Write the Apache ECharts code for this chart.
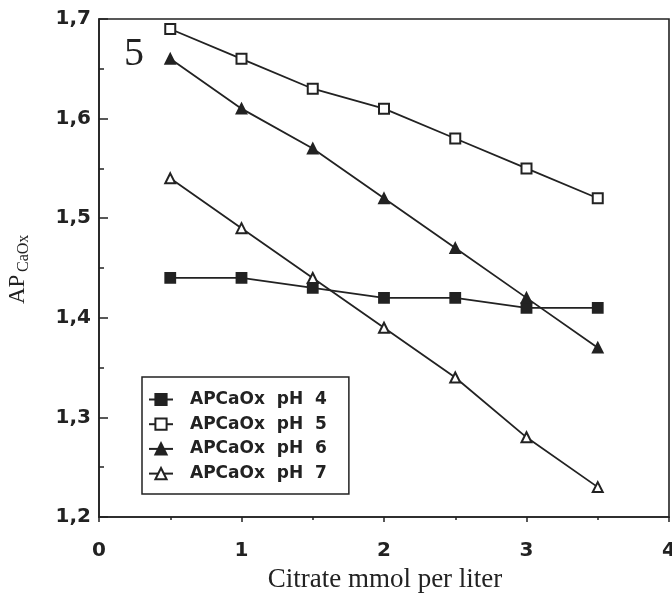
<!DOCTYPE html>
<html>
<head>
<meta charset="utf-8">
<script src="https://cdn.jsdelivr.net/npm/echarts@6/dist/echarts.min.js"></script>
<style>
  html, body { margin: 0; padding: 0; background: #fff; }
  #chart { width: 672px; height: 598px; }
</style>
</head>
<body>
<div id="chart"></div>
<script>
// Citrate concentration (mmol per liter)
const citrate = [0.5, 1, 1.5, 2, 2.5, 3, 3.5];

// Ion activity product of calcium oxalate at each pH
const apPH4 = [1.44, 1.44, 1.43, 1.42, 1.42, 1.41, 1.41];
const apPH5 = [1.69, 1.66, 1.63, 1.61, 1.58, 1.55, 1.52];
const apPH6 = [1.66, 1.61, 1.57, 1.52, 1.47, 1.42, 1.37];
const apPH7 = [1.54, 1.49, 1.44, 1.39, 1.34, 1.28, 1.23];

const seriesNames = ['APCaOx pH 4', 'APCaOx pH 5', 'APCaOx pH 6', 'APCaOx pH 7'];
const seriesSymbols = ['rect', 'emptyRect', 'triangle', 'emptyTriangle'];
const seriesValues = [apPH4, apPH5, apPH6, apPH7];

const ink = '#222';
const tickFont = { fontFamily: 'DejaVu Sans', fontWeight: 'bold', fontSize: 20, color: ink };

const chart = echarts.init(document.getElementById('chart'), null, { renderer: 'canvas' });

const series = seriesNames.map((name, i) => ({
  name: name,
  type: 'line',
  data: citrate.map((x, j) => [x, seriesValues[i][j]]),
  symbol: seriesSymbols[i],
  symbolSize: 10,
  showSymbol: true,
  lineStyle: { color: ink, width: 1.8 },
  itemStyle: { color: ink, borderColor: ink, borderWidth: 1.8 },
  emphasis: { disabled: true },
  animation: false
}));

chart.setOption({
  animation: false,
  backgroundColor: '#fff',
  grid: {
    left: 99, right: 3, top: 19, bottom: 81,
    outerBoundsMode: 'none',
    containLabel: false,
    show: true, borderColor: ink, borderWidth: 1.6, backgroundColor: 'transparent'
  },
  xAxis: {
    type: 'value',
    min: 0, max: 4, interval: 1,
    axisLine: { show: true, lineStyle: { color: ink, width: 1.6 } },
    axisTick: { show: true, inside: false, length: 5, lineStyle: { color: ink, width: 1.5 } },
    minorTick: { show: true, splitNumber: 2, length: 3, lineStyle: { color: ink, width: 1.5 } },
    splitLine: { show: false },
    axisLabel: Object.assign({ margin: 24, hideOverlap: false }, tickFont)
  },
  yAxis: {
    type: 'value',
    min: 1.2, max: 1.7, interval: 0.1,
    axisLine: { show: true, lineStyle: { color: ink, width: 1.6 } },
    axisTick: { show: true, inside: true, length: 9, lineStyle: { color: ink, width: 1.5 } },
    minorTick: { show: true, splitNumber: 2, length: 5, lineStyle: { color: ink, width: 1.5 } },
    splitLine: { show: false },
    axisLabel: Object.assign({
      margin: 8,
      formatter: v => v.toFixed(1).replace('.', ',')
    }, tickFont)
  },
  legend: {
    orient: 'vertical',
    left: 142, top: 377,
    data: seriesNames,
    itemWidth: 24, itemHeight: 14, itemGap: 7.7,
    padding: [14, 22, 12, 6],
    borderColor: ink, borderWidth: 1.5,
    backgroundColor: '#fff',
    selectedMode: false,
    formatter: name => name.replace(/ /g, '  '),
    textStyle: {
      fontFamily: 'DejaVu Sans', fontWeight: 'bold', fontSize: 17, color: ink,
      lineHeight: 14, padding: [0, 0, 0, 12]
    }
  },
  graphic: [
    {
      type: 'text', left: 124, top: 34, silent: true,
      style: { text: '5', font: '40px "Liberation Serif"', fill: ink }
    },
    {
      type: 'text', silent: true, x: 385, y: 580,
      style: {
        text: 'Citrate mmol per liter', font: '27px "Liberation Serif"', fill: ink,
        textAlign: 'center', textVerticalAlign: 'middle'
      }
    },
    {
      type: 'group', x: 29, y: 262, rotation: Math.PI / 2, silent: true,
      children: [
        {
          type: 'text', x: -42, y: 0,
          style: { text: 'AP', font: '23px "Liberation Serif"', fill: ink, textAlign: 'left', textVerticalAlign: 'bottom' }
        },
        {
          type: 'text', x: -10, y: 3,
          style: { text: 'CaOx', font: '16px "Liberation Serif"', fill: ink, textAlign: 'left', textVerticalAlign: 'bottom' }
        }
      ]
    }
  ],
  series: series
});
</script>
</body>
</html>
